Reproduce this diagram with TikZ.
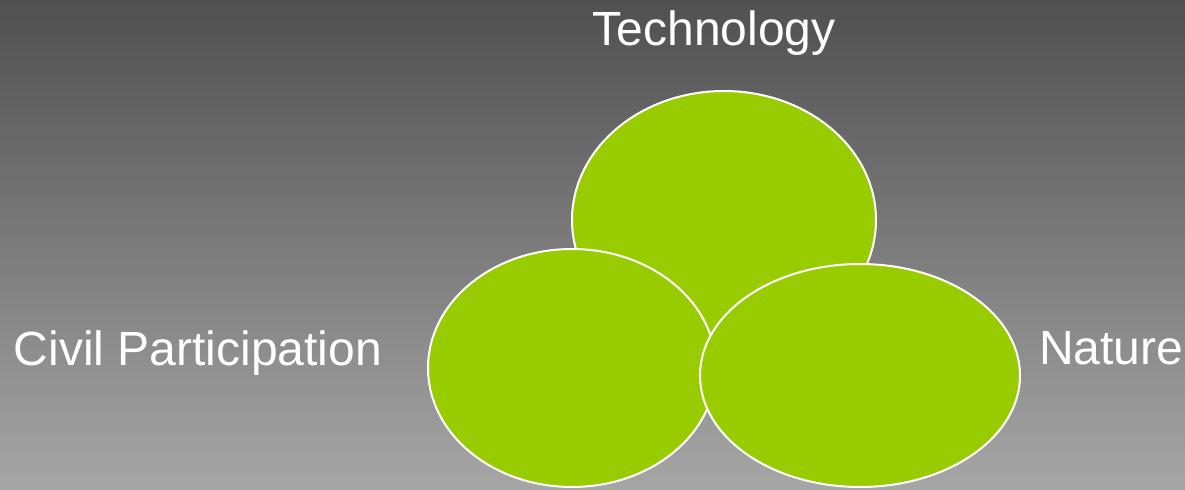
\documentclass[tikz,border=0pt]{standalone}
\usepackage{fontspec}
\setmainfont{Liberation Sans}
\usetikzlibrary{shapes.geometric}
\definecolor{leaf}{HTML}{99CC00}
\definecolor{bgtop}{HTML}{505050}
\definecolor{bgbottom}{HTML}{A6A6A6}

\begin{document}
\begin{tikzpicture}[
				x=0.75pt,y=0.75pt,
				blob/.style={draw=white,line width=1.5pt,fill=leaf,ellipse,inner sep=0pt},
				caption/.style={text=white,font=\fontsize{36}{43}\selectfont,inner sep=0pt}
				]
				
				% Sfondo
				\shade[top color=bgtop,bottom color=bgbottom] (0,0) rectangle (1185,489);
				\useasboundingbox (0,0) rectangle (1185,489);
				
				% Ellissi
				\node[blob,minimum width=228pt,minimum height=193.5pt] (tech) at (724,269) {};
				\node[blob,minimum width=216pt,minimum height=178.5pt] (civil) at (572,121) {};
				\node[blob,minimum width=240pt,minimum height=167.25pt] (nature) at (860,113.5) {};
				
				% Etichette
				\node[caption,anchor=base] (techlabel) at (714,443.3) {Technology};
				\node[caption,anchor=base west] (civillabel) at (13.5,123) {Civil Participation};
				\node[caption,anchor=base west] (naturelabel) at (1039,124) {Nature};
				
			\end{tikzpicture}
\end{document}
